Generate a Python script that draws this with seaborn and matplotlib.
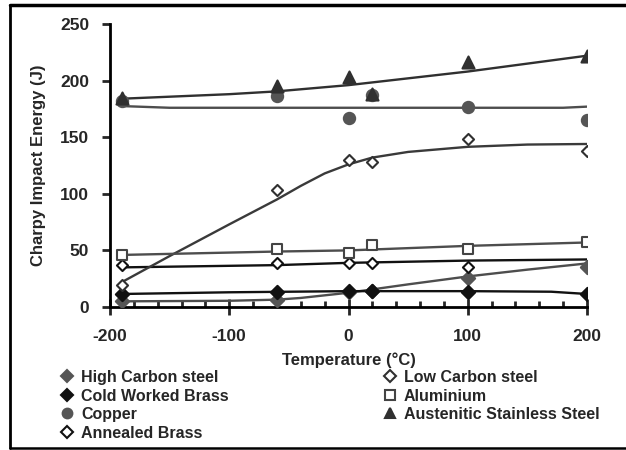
import numpy as np
import pandas as pd
import matplotlib
matplotlib.use("Agg")
import matplotlib.pyplot as plt
from matplotlib.lines import Line2D
from matplotlib.ticker import MultipleLocator
import seaborn as sns

sns.set_style("white")
plt.rcParams['font.family'] = ['Liberation Sans', 'DejaVu Sans']
plt.rcParams['font.weight'] = 'bold'
plt.rcParams['axes.unicode_minus'] = False

# ---- measured data points ----
temps = [-190, -60, 0, 20, 100, 200]
high_carbon = [5, 6, 13.5, 14, 25.5, 35.5]
low_carbon = [19.5, 103, 130, 128, 148, 138]
cold_worked_brass = [11.5, 13.5, 14, 14, 13.5, 11.5]
aluminium = [46, 51, 48, 55, 51, 57]
copper = [182, 186, 167, 187, 177, 165]
austenitic = [185, 195, 203, 188, 216, 222]
annealed_temps = [-190, -60, 0, 20, 100]
annealed_brass = [37, 39, 39, 39, 35.5]

# ---- trend lines ----
hc_trend_t = [-190, -100, -60, -40, 0, 50, 100, 150, 200]
hc_trend_v = [5, 5.5, 6.5, 8, 12.6, 20, 27, 33, 38.5]
lc_trend_t = [-190, -150, -100, -60, -40, -20, 0, 20, 50, 100, 150, 200]
lc_trend_v = [22, 45, 73, 95, 107, 118, 126, 132, 137, 141.5, 143.5, 144]
cwb_trend_t = [-190, -100, 0, 100, 170, 200]
cwb_trend_v = [11.5, 13, 14, 14, 13.5, 11.5]
al_trend_t = [-190, -60, 0, 100, 200]
al_trend_v = [46, 49, 50, 54, 57]
cu_trend_t = [-190, -150, 180, 200]
cu_trend_v = [177.5, 176, 176, 177]
aus_trend_t = [-190, -100, -60, 0, 100, 200]
aus_trend_v = [184, 188, 190.5, 196, 208, 222]
ab_trend_t = [-190, -60, 0, 100, 200]
ab_trend_v = [35, 37, 39, 41, 42]

x_ticks = [-200, -100, 0, 100, 200]
y_ticks = [0, 50, 100, 150, 200, 250]

fig = plt.figure(figsize=(6.26, 4.5), dpi=100)
ax = fig.add_axes([110 / 626, 1 - 307 / 450, 477 / 626, 283 / 450])

GRAY = '#555555'
DARK = '#303030'
BLACK = '#111111'

series = [
    # label, x, y, trend_t, trend_v, marker, face, edge, line color, size
    ("High Carbon steel", temps, high_carbon, hc_trend_t, hc_trend_v, 'D', GRAY, GRAY, '#4d4d4d', 46),
    ("Cold Worked Brass", temps, cold_worked_brass, cwb_trend_t, cwb_trend_v, 'D', BLACK, BLACK, BLACK, 46),
    ("Copper", temps, copper, cu_trend_t, cu_trend_v, 'o', GRAY, GRAY, '#4d4d4d', 66),
    ("Annealed Brass", annealed_temps, annealed_brass, ab_trend_t, ab_trend_v, 'D', 'white', BLACK, BLACK, 32),
    ("Low Carbon steel", temps, low_carbon, lc_trend_t, lc_trend_v, 'D', 'white', DARK, '#3a3a3a', 32),
    ("Aluminium", temps, aluminium, al_trend_t, al_trend_v, 's', 'white', '#444444', '#4d4d4d', 52),
    ("Austenitic Stainless Steel", temps, austenitic, aus_trend_t, aus_trend_v, '^', DARK, DARK, DARK, 75),
]

for label, xs, ys, tt, tv, mk, fc, ec, lc, s in series:
    sns.lineplot(x=tt, y=tv, ax=ax, color=lc, linewidth=1.7, legend=False)
for label, xs, ys, tt, tv, mk, fc, ec, lc, s in series:
    sns.scatterplot(x=xs, y=ys, ax=ax, marker=mk, s=s, color=fc, edgecolor=ec,
                    linewidth=1.5, legend=False, zorder=3)

ax.set_xlim(-200, 200)
ax.set_ylim(0, 250)
ax.set_xticks(x_ticks)
ax.set_yticks(y_ticks)
ax.xaxis.set_minor_locator(MultipleLocator(20))
for sp in ['top', 'right']:
    ax.spines[sp].set_visible(False)
for sp in ['left', 'bottom']:
    ax.spines[sp].set_color('black')
    ax.spines[sp].set_linewidth(2)
ax.tick_params(axis='y', which='major', direction='out', length=6, width=2,
               pad=9, labelsize=12.5, left=True)
ax.tick_params(axis='x', which='major', direction='inout', length=12, width=2,
               pad=10, labelsize=12.5, bottom=True)
ax.tick_params(axis='x', which='minor', direction='in', length=4, width=2, bottom=True)
ax.set_xlabel("Temperature (°C)", fontsize=12, fontweight='bold', labelpad=6)
ax.set_ylabel("Charpy Impact Energy (J)", fontsize=12, fontweight='bold', labelpad=10)

def handle(mk, fc, ec, ms):
    return Line2D([], [], linestyle='none', marker=mk, markerfacecolor=fc,
                  markeredgecolor=ec, markeredgewidth=1.5, markersize=ms)

handles = [handle(mk, fc, ec, 7 if mk != 'D' else 6) for (_, _, _, _, _, mk, fc, ec, _, _) in series]
labels = [s[0] for s in series]

leg_kw = dict(frameon=False, handlelength=0.8, handletextpad=0.45, labelspacing=0.22,
              borderpad=0, borderaxespad=0, prop={'size': 11.5, 'weight': 'bold'}, loc='upper left')
fig.legend(handles[:4], labels[:4], bbox_to_anchor=(61 / 626, 1 - 370 / 450), **leg_kw)
fig.legend(handles[4:], labels[4:], bbox_to_anchor=(384 / 626, 1 - 370 / 450), **leg_kw)

# outer chart border (top, left, bottom)
fig.add_artist(Line2D([10 / 626, 1], [1 - 5 / 450, 1 - 5 / 450], transform=fig.transFigure, color='black', linewidth=2.5))
fig.add_artist(Line2D([10 / 626, 10 / 626], [1 - 5 / 450, 1 - 448 / 450], transform=fig.transFigure, color='black', linewidth=2))
fig.add_artist(Line2D([10 / 626, 1], [1 - 448 / 450, 1 - 448 / 450], transform=fig.transFigure, color='black', linewidth=1.8))

fig.savefig("out.png", dpi=100)
